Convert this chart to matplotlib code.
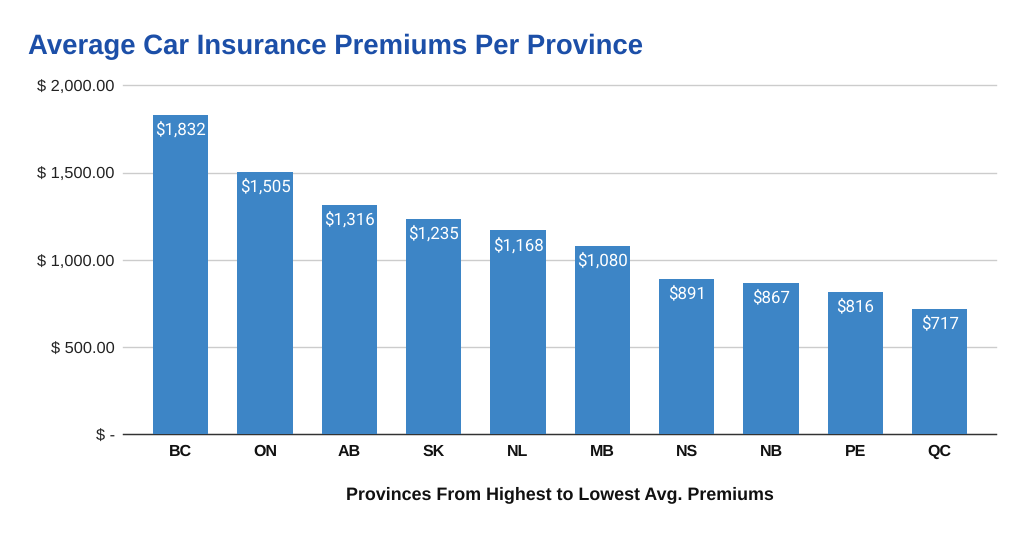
import matplotlib
matplotlib.use('Agg')
import matplotlib.pyplot as plt

provinces = ['BC', 'ON', 'AB', 'SK', 'NL', 'MB', 'NS', 'NB', 'PE', 'QC']
premiums = [1832, 1505, 1316, 1235, 1168, 1080, 891, 867, 816, 717]
y_ticks = [0, 500, 1000, 1500, 2000]
y_labels = ['$ -', '$ 500.00', '$ 1,000.00', '$ 1,500.00', '$ 2,000.00']

plt.rcParams['font.family'] = ['Liberation Sans', 'DejaVu Sans']
plt.rcParams['text.hinting'] = 'no_hinting'

W, H = 1024, 539
fig = plt.figure(figsize=(W / 100, H / 100), dpi=100)
# pixel box of the plot area
left, right, top, bottom = 123, 996, 85.5, 434
ax = fig.add_axes([left / W, 1 - bottom / H, (right - left) / W, (bottom - top) / H])

bars = ax.bar(range(len(provinces)), premiums, width=0.655, color='#3d85c6', zorder=3)
ax.set_xlim(-0.684, 9.668)
ax.set_ylim(0, 2000)

for i, v in enumerate(premiums):
    ax.annotate('${:,}'.format(v), (i, v), xytext=(0, -5), textcoords='offset points',
                ha='center', va='top', color='white', fontsize=12.2,
                family='Roboto', zorder=4)

ax.set_yticks(y_ticks)
ax.set_yticklabels(y_labels, fontsize=11.8, color='#222222')
ax.set_xticks(range(len(provinces)))
ax.set_xticklabels(provinces, fontsize=11.5, fontweight='bold', color='#111111', va='baseline')
ax.tick_params(axis='both', length=0)
ax.tick_params(axis='x', pad=15.5)
ax.tick_params(axis='y', pad=6)
ax.grid(axis='y', color='#cccccc', linewidth=1, zorder=0)
for line in ax.get_ygridlines():
    line.set_clip_on(False)
ax.set_axisbelow(True)
for s in ['top', 'left', 'right']:
    ax.spines[s].set_visible(False)
ax.spines['bottom'].set_color('#333333')
ax.spines['bottom'].set_linewidth(1)

fig.text(560 / W, 1 - 495 / H, 'Provinces From Highest to Lowest Avg. Premiums',
         ha='center', va='center', fontsize=12.9, fontweight='bold', color='#111111')
fig.text(28 / W, 1 - 47 / H, 'Average Car Insurance Premiums Per Province',
         ha='left', va='center', fontsize=19.8, fontweight='bold', color='#1c4fa8')

fig.savefig('out.png', dpi=100)
